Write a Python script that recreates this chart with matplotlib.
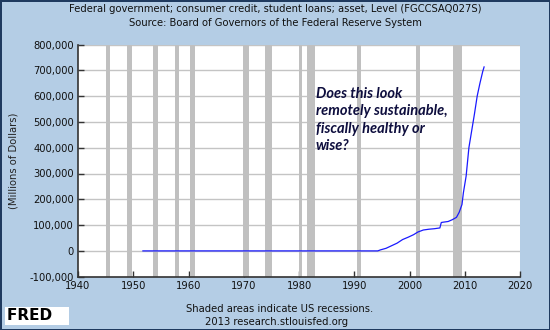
import matplotlib.pyplot as plt
import numpy as np

# Student loans held by the federal government (millions of dollars)
years = [1951.75, 1994.25, 1994.75, 1995.75, 1996.75, 1997.75, 1998.75, 1999.75,
         2000.75, 2001.5, 2002.5, 2003.5, 2004.5, 2005.5, 2005.75, 2006.0,
         2007.0, 2007.75, 2008.5, 2009.0, 2009.5, 2009.75, 2010.25, 2010.75,
         2011.25, 2011.75, 2012.25, 2012.75, 2013.25, 2013.5]
values = [0, 0, 4000, 10000, 20000, 30000, 44000, 53000,
          63000, 73000, 81000, 84000, 86000, 89000, 110000, 111000,
          114000, 121000, 130000, 150000, 180000, 225000, 290000, 400000,
          465000, 530000, 600000, 650000, 695000, 713000]

# NBER recessions (start, end)
recessions = [(1945.1, 1945.8), (1948.9, 1949.8), (1953.5, 1954.4), (1957.6, 1958.3),
              (1960.3, 1961.1), (1969.9, 1970.9), (1973.9, 1975.2), (1980.0, 1980.5),
              (1981.5, 1982.9), (1990.5, 1991.2), (2001.2, 2001.9), (2007.9, 2009.5)]

xticks = [1940, 1950, 1960, 1970, 1980, 1990, 2000, 2010, 2020]
yticks = [-100000, 0, 100000, 200000, 300000, 400000, 500000, 600000, 700000, 800000]

bg = '#b4cde5'

fig = plt.figure(figsize=(5.5, 3.3), dpi=100)
fig.patch.set_facecolor(bg)
fig.patch.set_edgecolor('#1f3a5f')
fig.patch.set_linewidth(1.0)

ax = fig.add_axes([78 / 550, 53.3 / 330, 442 / 550, 232.2 / 330])
ax.set_facecolor('white')

for s, e in recessions:
    ax.axvspan(s, e, color='#c0c0c0', lw=0, zorder=1)

ax.set_yticks(yticks)
ax.grid(axis='y', color='#c4c4c4', lw=1, zorder=0.5)
ax.set_axisbelow(True)

ax.plot(years, values, color='#1a1aff', lw=0.9, zorder=3)

ax.set_xlim(1940, 2020)
ax.set_ylim(-100000, 800000)
ax.set_xticks(xticks)
ax.set_yticklabels([f'{v:,}' for v in yticks])

ax.tick_params(direction='in', length=4, width=1, color='#333333',
               labelsize=7.2, labelcolor='#111111', pad=3)
for sp in ['top', 'right']:
    ax.spines[sp].set_visible(False)
for sp in ['left', 'bottom']:
    ax.spines[sp].set_color('#333333')
    ax.spines[sp].set_linewidth(1.2)

ax.set_ylabel('(Millions of Dollars)', fontsize=7.2, color='#222222', labelpad=8)

ax.text(1983.0, 635000, 'Does this look\nremotely sustainable,\nfiscally healthy or\nwise?',
        family='Lato', fontsize=10.5, fontweight='bold', fontstyle='italic',
        color='#0d0d3d', va='top', ha='left', linespacing=1.3, zorder=4)

fig.text(0.5, 1 - 9 / 330, 'Federal government; consumer credit, student loans; asset, Level (FGCCSAQ027S)',
         ha='center', va='center', fontsize=7.2, color='#111111')
fig.text(0.5, 1 - 23 / 330, 'Source: Board of Governors of the Federal Reserve System',
         ha='center', va='center', fontsize=7.2, color='#111111')

fig.text(280 / 550, 1 - 309 / 330, 'Shaded areas indicate US recessions.',
         ha='center', va='center', fontsize=7.2, color='#111111')
fig.text(277 / 550, 1 - 322 / 330, '2013 research.stlouisfed.org',
         ha='center', va='center', fontsize=7.2, color='#111111')

fig.text(7 / 550, 1 - 316 / 330, 'FRED   ', ha='left', va='center', fontsize=11,
         fontweight='bold', color='black',
         bbox=dict(boxstyle='square,pad=0.1', facecolor='white', edgecolor='none'))

fig.savefig('out.png', dpi=100, facecolor=bg, edgecolor=fig.patch.get_edgecolor())
